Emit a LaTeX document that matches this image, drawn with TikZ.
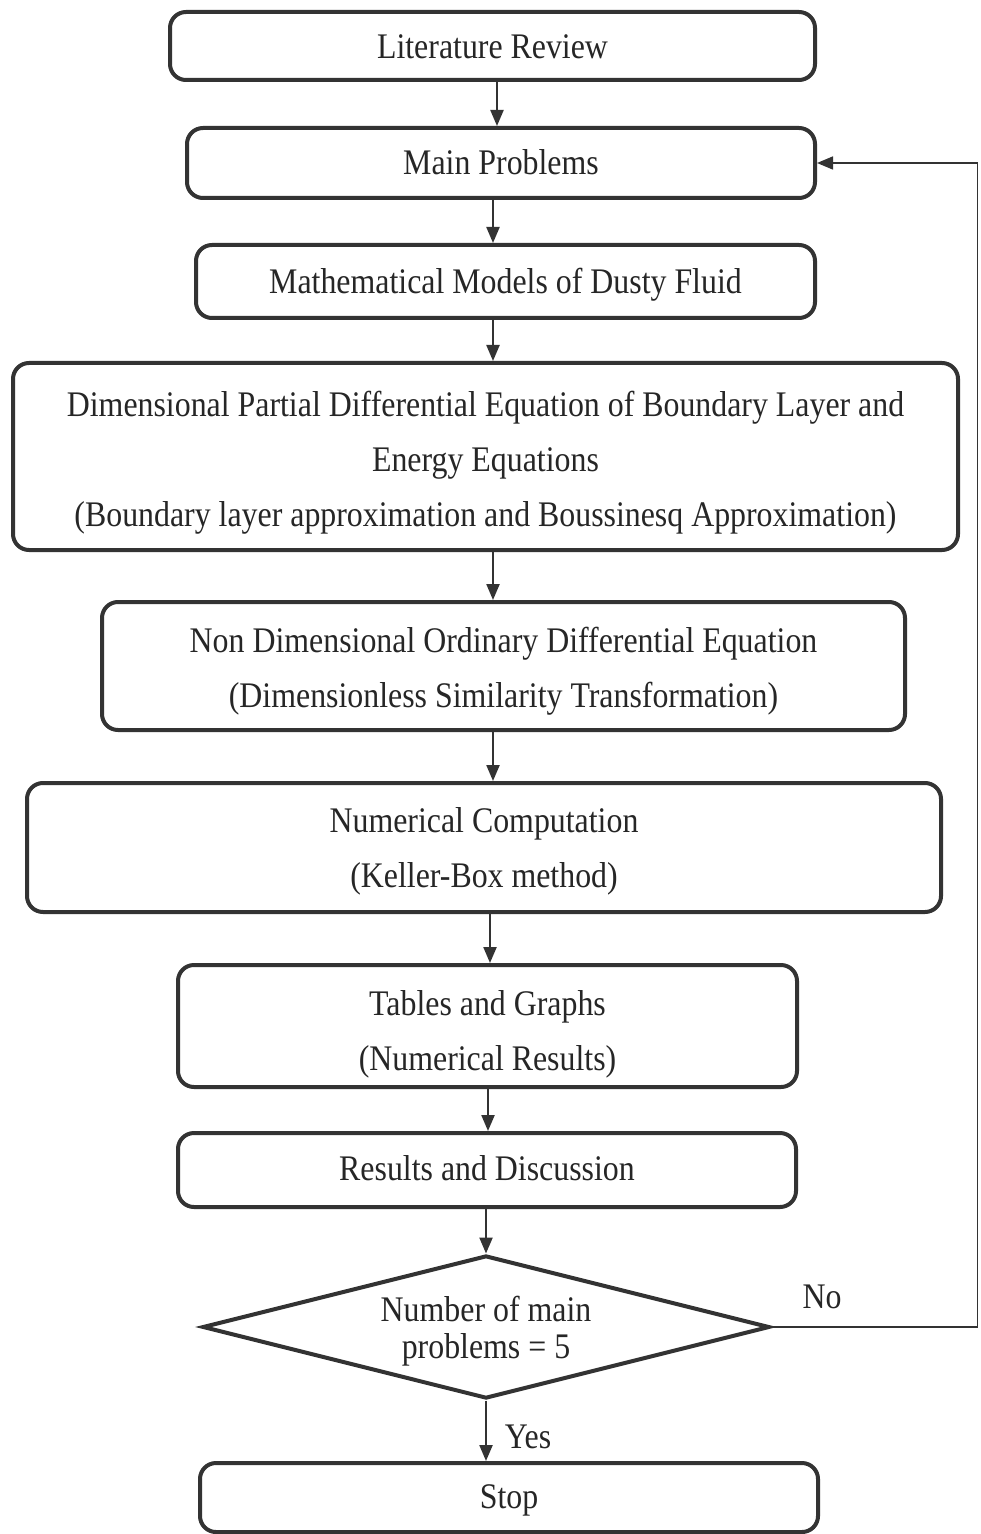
\documentclass[tikz,border=0pt]{standalone}
\usepackage{fontspec}
\setmainfont{Liberation Serif}[FakeStretch=0.885]
\usetikzlibrary{shapes.geometric,arrows.meta}
\definecolor{ink}{HTML}{333333}
\definecolor{txt}{HTML}{262626}
\newcommand\mytb[2]{\raisebox{-#1}[\height][\depth]{\begin{tabular}{@{}c@{}}#2\end{tabular}}}
\begin{document}
\begin{tikzpicture}[x=0.5pt,y=-0.5pt,
  box/.style={draw=ink,line width=2pt,rounded corners=8pt,align=center,inner sep=0pt,text=txt,font=\fontsize{18}{27.5}\selectfont},
  dec/.style={draw=ink,line width=2pt,diamond,aspect=3.96,align=center,inner sep=0pt,text=txt,font=\fontsize{18}{18.5}\selectfont},
  lbl/.style={text=txt,font=\fontsize{18}{20}\selectfont,inner sep=0pt},
  arr/.style={draw=ink,line width=1.1pt,-{Triangle[length=8pt,width=6.5pt]}},
  fbarr/.style={draw=ink,line width=0.8pt,-{Triangle[length=8pt,width=6.5pt]}},
]
\fill[white] (0,0) rectangle (980,1534);
\useasboundingbox (0,0) rectangle (980,1534);

\node[box,minimum width=322.5pt,minimum height=34pt] (lit) at (492.5,46) {\mytb{1pt}{Literature Review}};
\node[box,minimum width=314pt,minimum height=35pt] (main) at (501,163) {\mytb{0.5pt}{Main Problems}};
\node[box,minimum width=309.5pt,minimum height=36.5pt] (math) at (505.5,281.5) {\mytb{0.5pt}{Mathematical Models of Dusty Fluid}};
\node[box,minimum width=472.5pt,minimum height=93.5pt] (dim) at (485.5,456.5) {\mytb{2pt}{Dimensional Partial Differential Equation of Boundary Layer and\\Energy Equations\\(Boundary layer approximation and Boussinesq Approximation)}};
\node[box,minimum width=401.5pt,minimum height=64pt] (nondim) at (503.5,666) {\mytb{1.5pt}{Non Dimensional Ordinary Differential Equation\\(Dimensionless Similarity Transformation)}};
\node[box,minimum width=457pt,minimum height=64.5pt] (num) at (484,847.5) {\mytb{0.5pt}{Numerical Computation\\(Keller-Box method)}};
\node[box,minimum width=309.5pt,minimum height=61pt] (tab) at (487.5,1026) {\mytb{3pt}{Tables and Graphs\\(Numerical Results)}};
\node[box,minimum width=309pt,minimum height=37pt] (res) at (487,1170) {\mytb{-0.5pt}{Results and Discussion}};
\node[dec,minimum width=283.5pt,minimum height=71.5pt] (q) at (486,1327) {\mytb{3pt}{Number of main\\problems = 5}};
\node[box,minimum width=309pt,minimum height=34.5pt] (stop) at (509,1497.5) {\mytb{0pt}{Stop}};

\node[lbl] (no) at (822,1297) {No};
\node[lbl] (yes) at (528,1437) {Yes};

\draw[arr] (lit.south -| 497,0) -- (main.north -| 497,0);
\draw[arr] (main.south -| 493,0) -- (math.north -| 493,0);
\draw[arr] (math.south -| 493,0) -- (dim.north -| 493,0);
\draw[arr] (dim.south -| 493,0) -- (nondim.north -| 493,0);
\draw[arr] (nondim.south -| 493,0) -- (num.north -| 493,0);
\draw[arr] (num.south -| 490,0) -- (tab.north -| 490,0);
\draw[arr] (tab.south -| 488,0) -- (res.north -| 488,0);
\draw[arr] (res.south -| 486,0) -- (q.north);
\draw[arr] (q.south) -- (stop.north -| q.south);

\coordinate (fb) at (977.5,163);
\draw[fbarr] (q.east) -| (fb) -- (main.east);
\end{tikzpicture}
\end{document}
